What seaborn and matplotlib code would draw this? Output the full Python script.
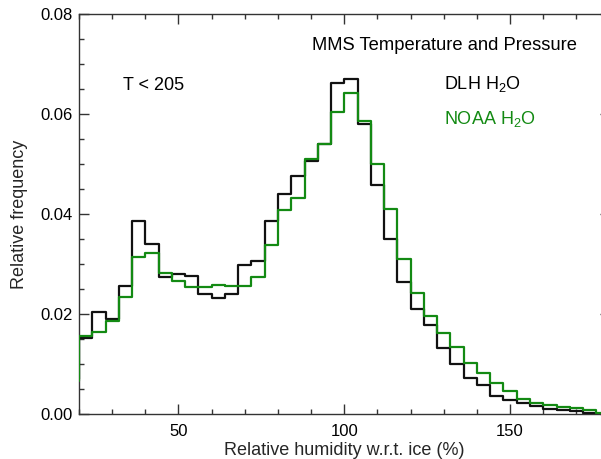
import numpy as np
import pandas as pd
import matplotlib
matplotlib.use("Agg")
import matplotlib.pyplot as plt
import seaborn as sns
from matplotlib.ticker import MultipleLocator, FormatStrFormatter

# Bin left edges (width 4 %), relative humidity w.r.t. ice
bin_left = list(range(16, 180, 4))

dlh_freq = [0.0070, 0.0152, 0.0205, 0.0190, 0.0257, 0.0386, 0.0341, 0.0275,
            0.0280, 0.0277, 0.0240, 0.0233, 0.0240, 0.0298, 0.0306, 0.0387,
            0.0440, 0.0477, 0.0506, 0.0541, 0.0663, 0.0671, 0.0580, 0.0459,
            0.0350, 0.0264, 0.0210, 0.0179, 0.0132, 0.0100, 0.0072, 0.0059,
            0.0037, 0.0028, 0.0023, 0.0016, 0.0011, 0.0008, 0.0006, 0.0003,
            0.0001]

noaa_freq = [0.0066, 0.0157, 0.0164, 0.0187, 0.0234, 0.0315, 0.0323, 0.0283,
             0.0267, 0.0255, 0.0255, 0.0259, 0.0257, 0.0257, 0.0275, 0.0339,
             0.0409, 0.0432, 0.0510, 0.0540, 0.0605, 0.0643, 0.0587, 0.0500,
             0.0411, 0.0311, 0.0242, 0.0197, 0.0163, 0.0134, 0.0103, 0.0083,
             0.0063, 0.0047, 0.0030, 0.0023, 0.0018, 0.0014, 0.0012, 0.0009,
             0.0002]

bin_width = 4
x_ticks_major = [50, 100, 150]
y_ticks_major = [0.00, 0.02, 0.04, 0.06, 0.08]

title_text = "MMS Temperature and Pressure"
cond_text = "T < 205"
dlh_label = "DLH H$_2$O"
noaa_label = "NOAA H$_2$O"
xlabel = "Relative humidity w.r.t. ice (%)"
ylabel = "Relative frequency"

sns.set_theme(style="ticks")
plt.rcParams["font.family"] = ["Liberation Sans", "DejaVu Sans"]
plt.rcParams["mathtext.default"] = "regular"

black = "#111111"
green = "#138a13"
spine_col = "#333333"

edges = [float(b) for b in bin_left] + [float(bin_left[-1] + bin_width)]
df_dlh = pd.DataFrame({"rhi": [b + bin_width / 2 for b in bin_left], "freq": dlh_freq})
df_noaa = pd.DataFrame({"rhi": [b + bin_width / 2 for b in bin_left], "freq": noaa_freq})

fig = plt.figure(figsize=(6.01, 4.59), dpi=100)
ax = fig.add_axes([79 / 601, (459 - 414.3) / 459, (609.6 - 79) / 601, 400.3 / 459])

sns.histplot(data=df_dlh, x="rhi", weights="freq", bins=edges, element="step",
             fill=False, color=black, linewidth=1.6, ax=ax, zorder=3)
sns.histplot(data=df_noaa, x="rhi", weights="freq", bins=edges, element="step",
             fill=False, color=green, linewidth=1.6, ax=ax, zorder=3.1)

ax.set_xlim(20, 180)
ax.set_ylim(0, 0.08)
ax.set_xticks(x_ticks_major)
ax.xaxis.set_minor_locator(MultipleLocator(10))
ax.set_yticks(y_ticks_major)
ax.yaxis.set_minor_locator(MultipleLocator(0.005))
ax.yaxis.set_major_formatter(FormatStrFormatter("%.2f"))

for s in ax.spines.values():
    s.set_visible(True)
    s.set_color(spine_col)
    s.set_linewidth(1.0)

ax.tick_params(which="both", direction="in", top=True, right=True,
               color=spine_col, width=1.0)
ax.tick_params(which="major", length=7.2)
ax.tick_params(which="minor", length=3.6)
ax.tick_params(axis="x", which="major", labelsize=12, pad=7, labelcolor="black")
ax.tick_params(axis="y", which="major", labelsize=12, pad=4.5, labelcolor="black")

ax.set_xlabel(xlabel, fontsize=13)
ax.set_ylabel(ylabel, fontsize=13)
ax.xaxis.set_label_coords(0.5, -0.069)
ax.yaxis.set_label_coords(-0.097, 0.5)

ax.text(0.4386, 0.910, title_text, transform=ax.transAxes, fontsize=13.2,
        ha="left", va="baseline", color="black")
ax.text(0.0824, 0.810, cond_text, transform=ax.transAxes, fontsize=13,
        ha="left", va="baseline", color="black")
ax.text(0.6885, 0.812, dlh_label, transform=ax.transAxes, fontsize=13,
        ha="left", va="baseline", color="black")
ax.text(0.6885, 0.725, noaa_label, transform=ax.transAxes, fontsize=13,
        ha="left", va="baseline", color=green)

fig.savefig("out.png", dpi=100)
